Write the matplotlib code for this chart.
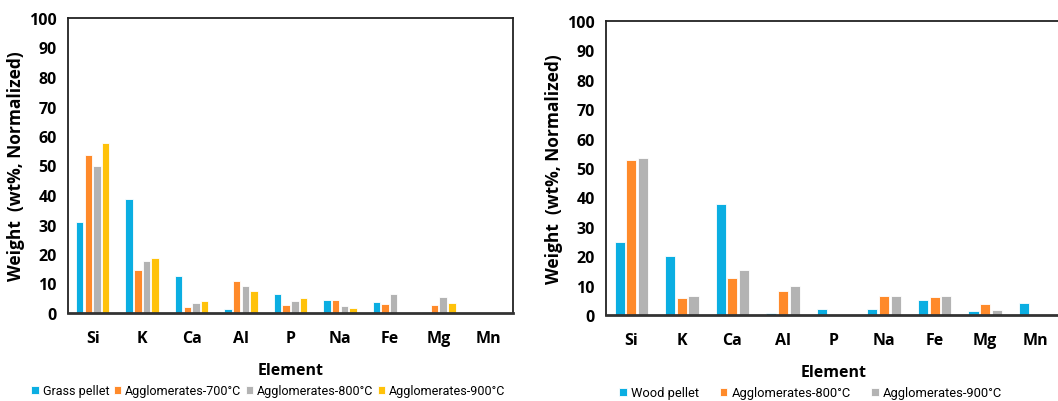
import matplotlib
matplotlib.use("Agg")
import matplotlib.pyplot as plt
import numpy as np

elements = ["Si", "K", "Ca", "Al", "P", "Na", "Fe", "Mg", "Mn"]

# left panel: grass pellet
grass_labels = ["Grass pellet", "Agglomerates-700°C", "Agglomerates-800°C", "Agglomerates-900°C"]
grass_pellet = [31.0, 38.5, 12.5, 1.2, 6.3, 4.5, 3.8, 0.5, 0.0]
grass_700 = [53.5, 14.5, 2.2, 11.0, 2.8, 4.5, 3.2, 2.8, 0.0]
grass_800 = [50.0, 17.5, 3.5, 9.0, 4.2, 2.5, 6.6, 5.4, 0.0]
grass_900 = [57.5, 18.5, 4.2, 7.3, 5.2, 1.8, 0.0, 3.5, 0.0]

# right panel: wood pellet
wood_labels = ["Wood pellet", "Agglomerates-800°C", "Agglomerates-900°C"]
wood_pellet = [25.0, 20.0, 37.7, 0.8, 2.2, 2.2, 5.0, 1.4, 4.2]
wood_800 = [52.8, 5.7, 12.5, 8.3, 0.0, 6.3, 6.0, 3.7, 0.0]
wood_900 = [53.5, 6.6, 15.2, 9.8, 0.0, 6.3, 6.3, 1.8, 0.0]

colors = ["#0BAEE2", "#FF8A2A", "#B3B3B3", "#FFC20A"]

bold_font = "Open Sans"
legend_font = ["Roboto", "DejaVu Sans"]

fig = plt.figure(figsize=(10.58, 4.02), dpi=100)
ax1 = fig.add_axes([68 / 1058, 1 - 314 / 402, 445 / 1058, 295 / 402])
ax2 = fig.add_axes([606 / 1058, 1 - 316 / 402, 455 / 1058, 294 / 402])


def draw(ax, series, labels, slot, barw, leg_x, leg_spacing, leg_size):
    x = np.arange(len(elements))
    n = len(series)
    for i, (vals, lab) in enumerate(zip(series, labels)):
        off = (i - (n - 1) / 2) * slot
        ax.bar(x + off, vals, barw, color=colors[i], label=lab,
               edgecolor="white", linewidth=0.6, zorder=2)
    ax.set_xlim(-0.5, len(elements) - 0.5)
    ax.set_ylim(0, 100)
    ax.set_yticks(range(0, 101, 10))
    ax.set_xticks(x)
    ax.set_xticklabels(elements, fontfamily=bold_font, fontweight="bold", fontsize=11.5)
    for t in ax.get_yticklabels():
        t.set_fontfamily(bold_font)
        t.set_fontweight("bold")
        t.set_fontsize(11.5)
    ax.tick_params(axis="y", length=0, pad=8)
    ax.tick_params(axis="x", length=0, pad=12)
    for s in ["left", "top", "right"]:
        ax.spines[s].set_linewidth(1.3)
        ax.spines[s].set_color("#222222")
    ax.spines["bottom"].set_linewidth(2.0)
    ax.spines["bottom"].set_color("#333333")
    ax.set_xlabel("Element", fontfamily=bold_font, fontweight="bold", fontsize=11.5, labelpad=12)
    ax.set_ylabel("Weight  (wt%, Normalized)", fontfamily=bold_font, fontweight="bold",
                  fontsize=12.5, labelpad=3)
    ax.legend(loc="upper center", bbox_to_anchor=(leg_x, -0.225), ncol=n, frameon=False,
              prop={"family": legend_font, "size": leg_size}, handlelength=0.6, handleheight=0.6,
              handletextpad=0.3, columnspacing=leg_spacing, borderaxespad=0)


draw(ax1, [grass_pellet, grass_700, grass_800, grass_900], grass_labels,
     0.175, 0.15, 0.45, 0.35, 9.0)
draw(ax2, [wood_pellet, wood_800, wood_900], wood_labels,
     0.23, 0.2, 0.45, 1.6, 9.3)

fig.savefig("out.png", dpi=100)
